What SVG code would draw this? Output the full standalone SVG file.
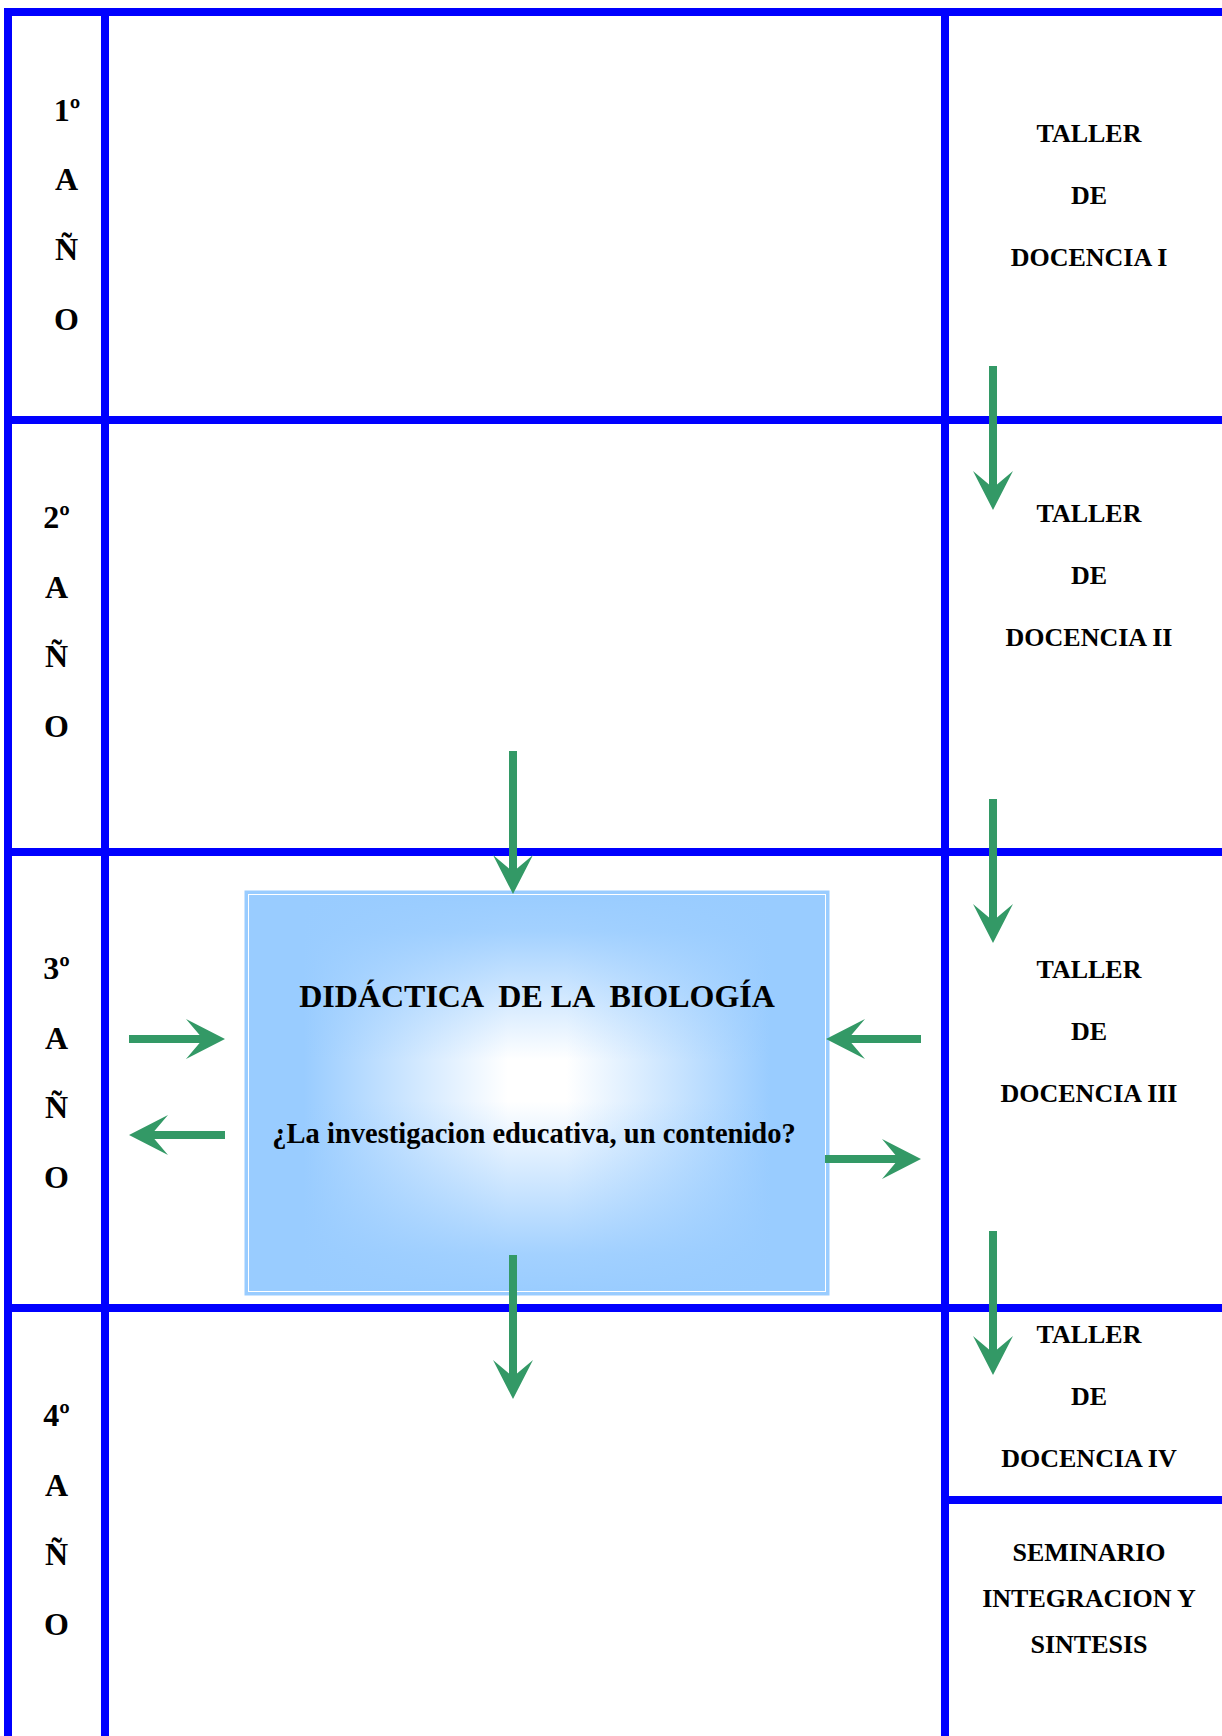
<svg xmlns="http://www.w3.org/2000/svg" width="1222" height="1736" viewBox="0 0 1222 1736">
<style>
.grid{stroke:#0000FF;stroke-width:8;fill:none}
.arrow{fill:#339966;stroke:none}
.t{font-family:"Liberation Serif","Times New Roman",serif;font-weight:bold;fill:#000}
.yr{font-size:32px;text-anchor:middle}
.rc{font-size:26px;text-anchor:middle}
.ttl{font-size:32px;text-anchor:middle;white-space:pre}
.sub{font-size:28.5px;text-anchor:middle}
</style>
<defs>
<linearGradient id="gh" x1="0" y1="0" x2="1" y2="0">
<stop offset="0" stop-color="#99CCFF"/>
<stop offset="0.1" stop-color="#99CCFF"/>
<stop offset="0.45" stop-color="#FFFFFF"/>
<stop offset="0.55" stop-color="#FFFFFF"/>
<stop offset="0.9" stop-color="#99CCFF"/>
<stop offset="1" stop-color="#99CCFF"/>
</linearGradient>
<linearGradient id="gv" x1="0" y1="0" x2="0" y2="1">
<stop offset="0" stop-color="#99CCFF" stop-opacity="1"/>
<stop offset="0.1" stop-color="#99CCFF" stop-opacity="0.9"/>
<stop offset="0.42" stop-color="#99CCFF" stop-opacity="0"/>
<stop offset="0.52" stop-color="#99CCFF" stop-opacity="0"/>
<stop offset="0.9" stop-color="#99CCFF" stop-opacity="0.9"/>
<stop offset="1" stop-color="#99CCFF" stop-opacity="1"/>
</linearGradient>
</defs>
<rect width="1222" height="1736" fill="#FFFFFF"/>

<g id="grid">
<line class="grid" x1="4" y1="12" x2="1222" y2="12"/>
<line class="grid" x1="4" y1="420" x2="1222" y2="420"/>
<line class="grid" x1="4" y1="852" x2="1222" y2="852"/>
<line class="grid" x1="4" y1="1308" x2="1222" y2="1308"/>
<line class="grid" x1="945" y1="1500" x2="1222" y2="1500"/>
<line class="grid" x1="8" y1="8" x2="8" y2="1736"/>
<line class="grid" x1="105" y1="8" x2="105" y2="1736"/>
<line class="grid" x1="945" y1="8" x2="945" y2="1736"/>
</g>

<g id="year1">
<text class="t yr" x="67" y="121">1º</text>
<text class="t yr" x="66.5" y="190">A</text>
<text class="t yr" x="66.5" y="260">Ñ</text>
<text class="t yr" x="66.5" y="330">O</text>
</g>
<g id="year2">
<text class="t yr" x="56.5" y="528">2º</text>
<text class="t yr" x="56.5" y="598">A</text>
<text class="t yr" x="56.5" y="667">Ñ</text>
<text class="t yr" x="56.5" y="737">O</text>
</g>
<g id="year3">
<text class="t yr" x="56.5" y="979">3º</text>
<text class="t yr" x="56.5" y="1049">A</text>
<text class="t yr" x="56.5" y="1118">Ñ</text>
<text class="t yr" x="56.5" y="1188">O</text>
</g>
<g id="year4">
<text class="t yr" x="56.5" y="1426">4º</text>
<text class="t yr" x="56.5" y="1496">A</text>
<text class="t yr" x="56.5" y="1565">Ñ</text>
<text class="t yr" x="56.5" y="1635">O</text>
</g>

<g id="taller1">
<text class="t rc" x="1089" y="142">TALLER</text>
<text class="t rc" x="1089" y="204">DE</text>
<text class="t rc" x="1089" y="266">DOCENCIA I</text>
</g>
<g id="taller2">
<text class="t rc" x="1089" y="522">TALLER</text>
<text class="t rc" x="1089" y="584">DE</text>
<text class="t rc" x="1089" y="646">DOCENCIA II</text>
</g>
<g id="taller3">
<text class="t rc" x="1089" y="978">TALLER</text>
<text class="t rc" x="1089" y="1040">DE</text>
<text class="t rc" x="1089" y="1102">DOCENCIA III</text>
</g>
<g id="taller4">
<text class="t rc" x="1089" y="1343">TALLER</text>
<text class="t rc" x="1089" y="1405">DE</text>
<text class="t rc" x="1089" y="1467">DOCENCIA IV</text>
</g>
<g id="seminario">
<text class="t rc" x="1089" y="1561">SEMINARIO</text>
<text class="t rc" x="1089" y="1607">INTEGRACION Y</text>
<text class="t rc" x="1089" y="1653">SINTESIS</text>
</g>

<g id="didactica">
<rect x="245.5" y="891.5" width="583" height="403" fill="url(#gh)"/>
<rect x="245.5" y="891.5" width="583" height="403" fill="url(#gv)"/>
<rect x="245.5" y="891.5" width="583" height="403" fill="none" stroke="#99CCFF" stroke-width="2"/>
<rect x="248.5" y="894.5" width="577" height="397" fill="none" stroke="#FFFFFF" stroke-width="1"/>
<text class="t ttl" x="537" y="1007" xml:space="preserve">DIDÁCTICA  DE LA  BIOLOGÍA</text>
<text class="t sub" x="534" y="1143">¿La investigacion educativa, un contenido?</text>
</g>

<g id="connectors">
<path class="arrow" d="M989,366 H997 V484.6 L1013,471 L993,510 L973,471 L989,484.6 Z"/>
<path class="arrow" d="M989,799 H997 V917.6 L1013,904 L993,943 L973,904 L989,917.6 Z"/>
<path class="arrow" d="M989,1231 H997 V1349.6 L1013,1336 L993,1375 L973,1336 L989,1349.6 Z"/>
<path class="arrow" d="M509,751 H517 V868.6 L533,855 L513,894 L493,855 L509,868.6 Z"/>
<path class="arrow" d="M509,1255 H517 V1373.6 L533,1360 L513,1399 L493,1360 L509,1373.6 Z"/>
<path class="arrow" d="M129,1035 V1043 H199.6 L186,1059 L225,1039 L186,1019 L199.6,1035 Z"/>
<path class="arrow" d="M225,1131 V1139 H154.4 L168,1155 L129,1135 L168,1115 L154.4,1131 Z"/>
<path class="arrow" d="M921,1035 V1043 H851.4 L865,1059 L826,1039 L865,1019 L851.4,1035 Z"/>
<path class="arrow" d="M825,1155 V1163 H895.4 L882,1179 L921,1159 L882,1139 L895.4,1155 Z"/>
</g>
</svg>
